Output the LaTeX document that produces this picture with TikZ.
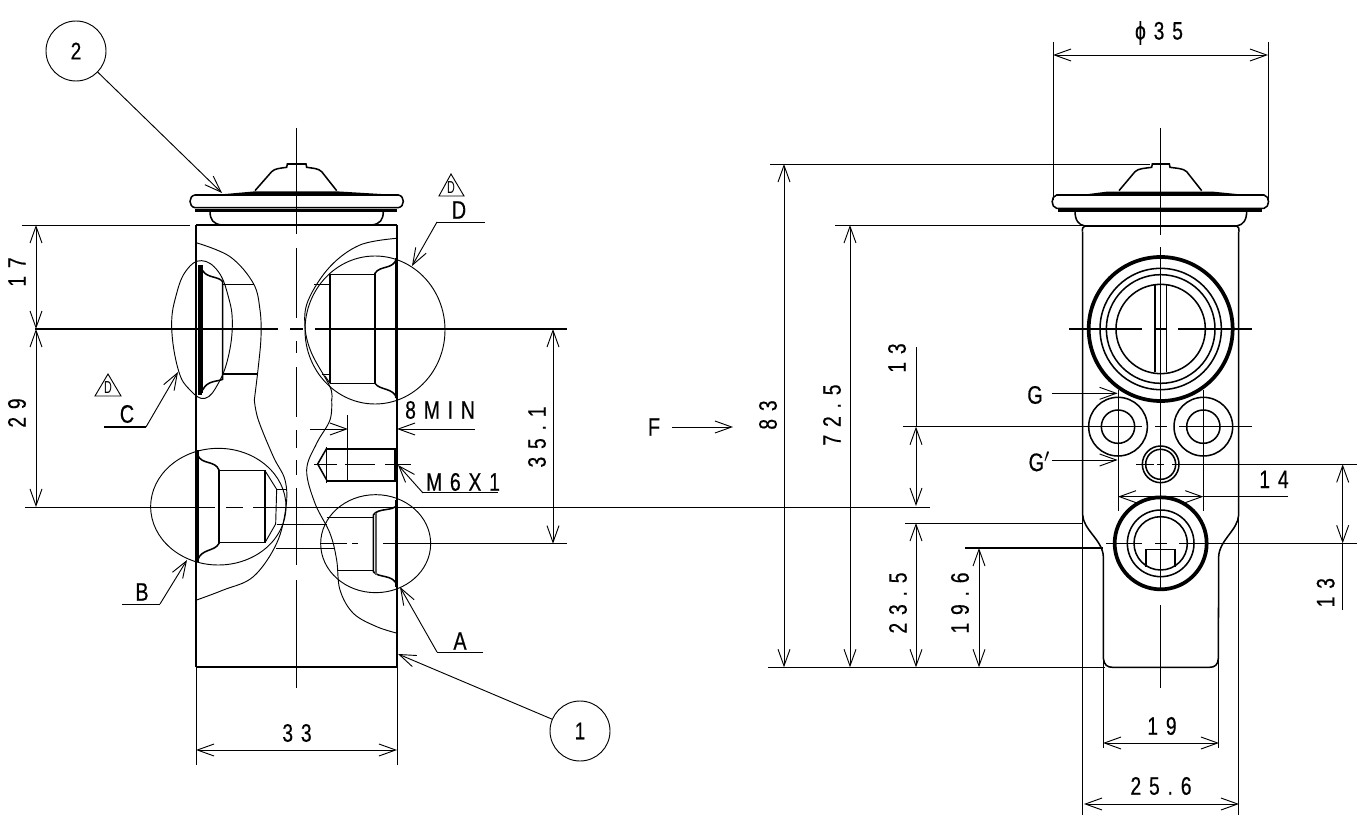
\documentclass[tikz,border=0pt]{standalone}
\usepackage{fontspec}
\usetikzlibrary{arrows.meta}
\newfontfamily\dimf[FakeStretch=0.76,LetterSpace=31,FakeBold=0.4]{Liberation Sans}
\newfontfamily\symf[FakeStretch=0.78,FakeBold=0.4]{Liberation Sans}
\newfontfamily\trif[FakeStretch=0.62]{Liberation Sans}
\tikzset{
  x=0.75pt,y=-0.75pt,
  thn/.style={line width=.7pt},
  med/.style={line width=1.15pt},
  thk/.style={line width=1.9pt},
  hvy/.style={line width=2.8pt},
  gry/.style={line width=1.2pt,black!65},
  arr/.style={thn,{Straight Barb[length=12.5pt,width=9pt,line width=.7pt]}-{Straight Barb[length=12.5pt,width=9pt,line width=.7pt]}},
  rar/.style={thn,-{Straight Barb[length=12.5pt,width=9pt,line width=.7pt]}},
  lbl/.style={font=\dimf\fontsize{19}{19}\selectfont,inner sep=0pt,text=black},
  sym/.style={font=\symf\fontsize{19}{19}\selectfont,inner sep=0pt,text=black},
  tri/.style={font=\trif\fontsize{13}{13}\selectfont,inner sep=0pt},
  balloon/.style={draw,circle,thn,minimum size=45pt,inner sep=0pt,font=\symf\fontsize{18}{18}\selectfont},
  zA/.style={shift={(130,150)},x=0.25pt,y=-0.25pt},
  zB/.style={shift={(130,400)},x=0.25pt,y=-0.25pt},
  zC/.style={shift={(1040,150)},x=0.25pt,y=-0.25pt},
  zD/.style={shift={(1020,380)},x=0.25pt,y=-0.25pt},
}
\begin{document}
\begin{tikzpicture}
\useasboundingbox (0,0) rectangle (1363,823);
\fill[white] (0,0) rectangle (1363,823);

% ================ LEFT VIEW ================
% body
\draw[med] (196,667) -- (397,667);
\draw[med] (196,225) -- (196,667);
\draw[med] (397,225) -- (397,667);
\draw[thk] (196,225) -- (397,225);
% centre line
\draw[thn] (296,128) -- (296,234);
\draw[thn] (296,248) -- (296,318) (296,341) -- (296,353) (296,367) -- (296,417)
 (296,430) -- (296,448) (296,460) -- (296,475) (296,488) -- (296,565) (296,580) -- (296,688);

\begin{scope}[zA]
 % cap
 \draw[med] (375,122) -- (425,65) .. controls (435,55) and (450,55) .. (470,52) -- (472,42) -- (528,42) -- (530,52) .. controls (550,55) and (565,55) .. (575,65) -- (620,122);
 \fill (275,133) -- (375,124) -- (620,124) -- (770,133) -- cycle;
 \draw[med] (195,135) -- (805,135) .. controls (825,138) and (825,170) .. (805,173) -- (195,173) .. controls (175,170) and (175,138) .. (195,135) -- cycle;
 \draw[thk] (195,181) -- (802,181);
 \draw[med] (240,183) .. controls (240,210) and (250,222) .. (275,225);
 \draw[med] (760,183) .. controls (760,210) and (750,222) .. (725,225);
 % contour left
 \draw[thn] plot[smooth,tension=.6] coordinates {(198,278) (300,320) (370,400) (390,480) (393,560) (385,650) (373,750)};
 % contour right
 \draw[thn] plot[smooth,tension=.6] coordinates {(800,265) (690,285) (600,350) (535,450) (525,530) (545,610) (600,710) (605,750)};
 % C outline
 \draw[thn] plot[smooth cycle,tension=.7] coordinates {(215,332) (265,365) (295,440) (307,520) (295,620) (265,700) (225,745) (180,720) (145,660) (125,530) (140,430) (170,360)};
 % C port
 \draw[hvy] (209,345) -- (209,735);
 \draw[thn] (218,345) -- (218,730);
 \draw[med] (218,362) .. controls (232,385) and (265,378) .. (278,395) -- (278,688) .. controls (265,695) and (232,690) .. (218,720);
 \draw[med] (280,403) -- (372,403);
 \draw[med] (280,672) -- (385,672);
 % D port
 \draw[thk] (800,325) -- (800,745);
 \draw[med] (800,325) .. controls (790,360) and (750,345) .. (735,370) -- (735,700) .. controls (750,722) and (790,712) .. (800,745);
 \draw[med] (600,373) -- (735,373);
 \draw[med] (600,700) -- (735,700);
 \draw[med] (600,373) -- (600,700);
 \draw[thn] (552,403) -- (600,403);
 \draw[thn] (575,672) -- (600,672);
 \draw[thn] (585,678) -- (600,700);
 % D circle
 \draw[thn] (735,540) ellipse [x radius=210,y radius=222];
\end{scope}

\begin{scope}[zB]
 % contours continued
 \draw[thn] plot[smooth,tension=.6] coordinates {(373,0) (385,60) (430,170) (465,240) (468,320) (440,430) (370,530) (280,570) (200,600)};
 \draw[thn] plot[smooth,tension=.6] coordinates {(605,0) (600,60) (560,130) (530,210) (555,310) (600,400) (620,480) (630,570) (670,640) (740,680) (803,700)};
 % B port
 \draw[hvy] (200,150) -- (200,485);
 \draw[med] (203,165) .. controls (215,195) and (255,180) .. (267,210) -- (267,430) .. controls (255,455) and (215,445) .. (203,480);
 \draw[med] (267,212) -- (405,212) -- (405,428) -- (267,428);
 \draw[thn] (405,212) -- (440,268) -- (437,372) -- (405,428);
 \draw[thn] (440,268) -- (468,268);
 \draw[thn] (440,372) -- (590,372);
 \draw[med] (438,445) -- (615,445);
 \draw[thn] (265,320) ellipse [x radius=203,y radius=175];
 % A port
 \draw[thk] (800,300) -- (800,560);
 \draw[med] (800,315) .. controls (790,335) and (745,322) .. (730,345) -- (730,515) .. controls (745,535) and (790,522) .. (800,555);
 \draw[gry] (738,340) -- (738,525);
 \draw[med] (590,352) -- (730,352);
 \draw[med] (622,512) -- (730,512);
 \draw[thn] (737,431) ellipse [x radius=165,y radius=147];
 % M6 hole
 \draw[med] (590,147) -- (795,147) (590,243) -- (795,243);
 \draw[med] (590,140) -- (590,250);
 \draw[med] (653,45) -- (653,245);
 \draw[med] (795,145) -- (795,245);
 \draw[med] (590,145) -- (563,192) -- (590,240);
 \draw[thn] (553,192) -- (620,192) (645,192) -- (735,192) (765,192) -- (843,192);
 \draw[thn] (880,278) -- (1105,278);
\end{scope}

% centre / extension lines across left view
\draw[med] (35,329) -- (278,329);
\draw[med] (290,329) -- (303,329);
\draw[med] (315,329) -- (567,329);
\draw[thn] (25,507) -- (215,507);
\draw[thn] (226,507) -- (243,507);
\draw[thn] (253,507) -- (930,507);
\draw[thn] (320,543.7) -- (347,543.7) (352,543.7) -- (358,543.7);
\draw[med] (383,543.7) -- (567,543.7);
\draw[thn] (22,225) -- (190,225);
\draw[thn] (196,667) -- (196,765) (397,667) -- (397,765);

% dimensions left
\draw[arr] (36,225) -- (36,329);
\draw[arr] (36,329) -- (36,507);
\draw[arr] (553,329) -- (553,543.7);
\draw[arr] (196,750) -- (397,750);
\node[lbl,rotate=90] (t17) at (17,272) {17};
\node[lbl,rotate=90] (t29) at (17,413) {29};
\node[lbl,rotate=90] (t351) at (537,437) {35.1};
\node[lbl] (t33) at (297,733) {33};
\coordinate (e8a) at (310,429); \coordinate (e8b) at (348,429);
\coordinate (e8c) at (397,429); \coordinate (e8d) at (475,429);
\draw[rar] (e8a) -- (e8b);
\draw[rar] (e8d) -- (e8c);
\node[lbl] (t8) at (440,410) {8MIN};
\node[lbl] (tm6) at (463,482) {M6X1};
\coordinate (m6a) at (423,493); \coordinate (m6b) at (398,465);
\draw[rar] (m6a) -- (m6b);

% balloons
\node[balloon] (b2) at (76,51) {2};
\node[balloon] (b1) at (580,731) {1};
\coordinate (b2tip) at (222,193);
\coordinate (b1tip) at (398,654);
\draw[rar] (b2) -- (b2tip);
\draw[rar] (b1) -- (b1tip);

% section leaders
\node[sym] (tA) at (460,641) {A};
\coordinate (Aa) at (483,652); \coordinate (Ab) at (437,652); \coordinate (Ac) at (400,587);
\draw[thn] (Aa) -- (Ab); \draw[rar] (Ab) -- (Ac);
\node[sym] (tB) at (142,592) {B};
\coordinate (Ba) at (122,604); \coordinate (Bb) at (160,604); \coordinate (Bc) at (187,560);
\draw[thn] (Ba) -- (Bb); \draw[rar] (Bb) -- (Bc);
\node[sym] (tC) at (127,414) {C};
\coordinate (Ca) at (104,427); \coordinate (Cb) at (146,427); \coordinate (Cc) at (178,372);
\draw[med] (Ca) -- (Cb); \draw[rar] (Cb) -- (Cc);
\node[sym] (tD) at (459,210) {D};
\coordinate (Da) at (485,222); \coordinate (Db) at (437,222); \coordinate (Dc) at (412,266);
\draw[thn] (Da) -- (Db); \draw[rar] (Db) -- (Dc);
% revision triangles
\draw[thn] (108,374) -- (95,396) -- (121,396) -- cycle;
\node[tri] (rc) at (108,388) {D};
\draw[thn] (451,174) -- (439,196) -- (464,196) -- cycle;
\node[tri] (rd) at (451,188) {D};

% F arrow
\node[sym] (tF) at (654,427) {F};
\coordinate (Fa) at (672,427); \coordinate (Fb) at (733,427);
\draw[rar] (Fa) -- (Fb);

% ================ RIGHT VIEW ================
\begin{scope}[zC]
 \draw[med] (237,122) -- (285,65) .. controls (295,55) and (315,55) .. (335,52) -- (337,42) -- (388,42) -- (390,52) .. controls (410,55) and (430,55) .. (440,65) -- (485,122);
 \fill (130,134) -- (200,125) -- (520,125) -- (610,134) -- cycle;
 \draw[med] (50,135) -- (672,135) .. controls (690,138) and (690,172) .. (672,175) -- (50,175) .. controls (32,172) and (32,138) .. (50,135) -- cycle;
 \draw[thk] (55,181) -- (665,181);
 \draw[med] (105,183) .. controls (105,210) and (115,225) .. (135,228);
 \draw[med] (620,183) .. controls (620,210) and (610,225) .. (590,228);
 \draw[thk] (135,228) -- (590,228);
 \draw[med] (127,245) .. controls (127,235) and (128,230) .. (135,228);
 \draw[med] (597,245) .. controls (597,235) and (596,230) .. (590,228);
 \draw[hvy] (362,537) circle [radius=216];
 \draw[med] (362,537) circle [radius=182];
 \draw[med] (362,537) circle [radius=163];
 \draw[med] (362,537) circle [radius=134];
 \draw[med] (345,405) -- (345,667) (380,405) -- (380,667);
 \draw[med] (88,537) -- (305,537) (345,537) -- (378,537) (415,537) -- (637,537);
\end{scope}

\begin{scope}[zD]
 \draw[med] (294,140) circle [radius=88] (294,140) circle [radius=50];
 \draw[med] (550,140) circle [radius=88] (550,140) circle [radius=50];
 \draw[med] (422,253) circle [radius=55];
 \draw[med] (422,253) circle [radius=45];
 \draw[hvy] (422,490) circle [radius=138];
 \draw[med] (422,490) circle [radius=100];
 \draw[med] (422,490) circle [radius=80];
 \draw[med] (378,560) -- (378,508) -- (465,508) -- (465,560);
 \draw[thn] (294,30) -- (294,392) (550,30) -- (550,392);
 \draw[med] (348,253) -- (402,253) (412,253) -- (432,253) (456,253) -- (1012,253);
 \draw[med] (258,490) -- (365,490) (405,490) -- (440,490) (478,490) -- (1012,490);
 \draw[med] (-352,140) -- (365,140) (405,140) -- (440,140) (478,140) -- (697,140);
 % G leaders
 \coordinate (Ga) at (95,40); \coordinate (Gb) at (293,40);
 \coordinate (Gc) at (95,240); \coordinate (Gd) at (293,240);
 \draw[rar] (Ga) -- (Gb);
 \draw[rar] (Gc) -- (Gd);
 \node[sym] (tG) at (45,45) {G};
 \node[sym] (tGp) at (58,245) {G$'$};
 % dim 14
 \draw[arr] (294,350) -- (550,350);
 \draw[thn] (550,350) -- (803,350);
 \node[lbl] (t14) at (762,298) {14};
 % dim 13 (right)
 \draw[arr] (968,253) -- (968,490);
 \draw[thn] (968,490) -- (968,690);
 \node[lbl,rotate=90] (t13r) at (917,638) {13};
 % body outline
 \draw[med] (188,-445) -- (188,405) .. controls (190,450) and (248,480) .. (250,530) -- (250,835) .. controls (252,855) and (262,862) .. (278,862) -- (568,862) .. controls (584,862) and (594,855) .. (595,835) -- (596,530) .. controls (598,480) and (654,450) .. (656,405) -- (656,-445);
 \draw[thn] (188,405) -- (188,1305);
 \draw[thn] (656,405) -- (656,1305);
 \draw[thn] (250,835) -- (250,1105);
 \draw[thn] (596,835) -- (596,1105);
\end{scope}
% centre line right view
\draw[thn] (1160.7,128) -- (1160.7,235) (1160.7,247) -- (1160.7,590) (1160.7,605) -- (1160.7,688);

% dims right view
\draw[thn] (770,164) -- (1150,164);
\draw[thn] (835,225) -- (1083,225);
\draw[thn] (903,426.7) -- (916,426.7);
\draw[thn] (768,667.3) -- (1105,667.3);
\draw[thn] (905,523) -- (1083,523);
\draw[med] (965,548) -- (1103,548);
\draw[arr] (784,164) -- (784,667.3);
\draw[arr] (850,225) -- (850,667.3);
\draw[arr] (916,426.7) -- (916,506);
\draw[thn] (916,347) -- (916,426.7);
\draw[arr] (916,523) -- (916,667.3);
\draw[arr] (979,548) -- (979,667.3);
\node[lbl,rotate=90] (t83) at (768,415) {83};
\node[lbl,rotate=90] (t725) at (832,415) {72.5};
\node[lbl,rotate=90] (t13u) at (897,358) {13};
\node[lbl,rotate=90] (t235) at (898,603) {23.5};
\node[lbl,rotate=90] (t196) at (960,603) {19.6};
% phi 35
\draw[thn] (1053,42) -- (1053,200) (1268,42) -- (1268,200);
\draw[arr] (1053,55) -- (1268,55);
\node[lbl] (tphi) at (1159,33) {ϕ35};
% 19 and 25.6
\draw[arr] (1103,743) -- (1219,743);
\node[lbl] (t19) at (1162,726) {19};
\draw[arr] (1084,804) -- (1239,804);
\node[lbl] (t256) at (1161,786) {25.6};
\end{tikzpicture}
\end{document}
